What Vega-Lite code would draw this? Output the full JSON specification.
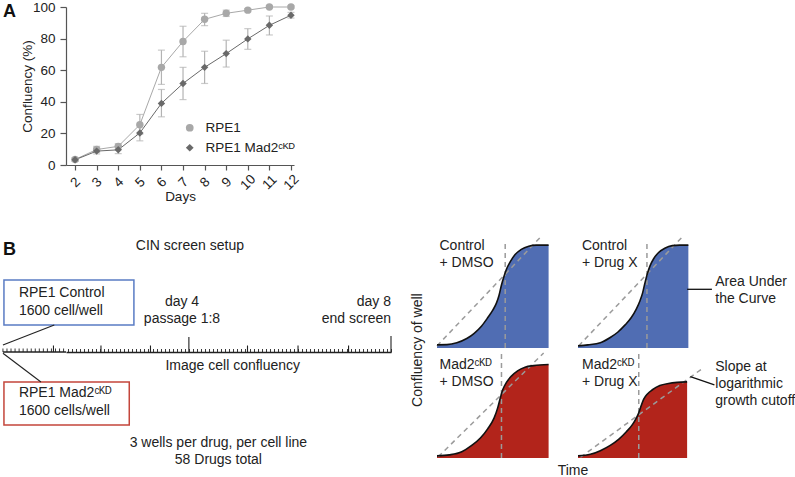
{
  "$schema": "https://vega.github.io/schema/vega-lite/v6.json",
  "background": "white",
  "padding": {"left": 2, "top": 0, "right": 0, "bottom": 0},
  "config": {
    "view": {"stroke": null},
    "font": "Liberation Sans",
    "text": {"font": "Liberation Sans"}
  },
  "datasets": {
    "growth": [
      {"series": "RPE1", "day": 2, "m": 3.5, "lo": 2.5, "hi": 4.5},
      {"series": "RPE1", "day": 3, "m": 9.8, "lo": 8, "hi": 11.8},
      {"series": "RPE1", "day": 4, "m": 11.8, "lo": 10, "hi": 13.5},
      {"series": "RPE1", "day": 5, "m": 25.5, "lo": 19.5, "hi": 32},
      {"series": "RPE1", "day": 6, "m": 61.8, "lo": 51, "hi": 72.7},
      {"series": "RPE1", "day": 7, "m": 78.2, "lo": 68.5, "hi": 87.8},
      {"series": "RPE1", "day": 8, "m": 92.2, "lo": 88.2, "hi": 96},
      {"series": "RPE1", "day": 9, "m": 96, "lo": 94, "hi": 98},
      {"series": "RPE1", "day": 10, "m": 98, "lo": 97, "hi": 99},
      {"series": "RPE1", "day": 11, "m": 100, "lo": 99.3, "hi": 100.7},
      {"series": "RPE1", "day": 12, "m": 100, "lo": 99.3, "hi": 100.7},
      {"series": "RPE1 Mad2ᶜᴷᴰ", "day": 2, "m": 3.3, "lo": 2.3, "hi": 4.3},
      {"series": "RPE1 Mad2ᶜᴷᴰ", "day": 3, "m": 8.8, "lo": 7, "hi": 10.6},
      {"series": "RPE1 Mad2ᶜᴷᴰ", "day": 4, "m": 9.6, "lo": 7.2, "hi": 12},
      {"series": "RPE1 Mad2ᶜᴷᴰ", "day": 5, "m": 20.3, "lo": 15.3, "hi": 25.3},
      {"series": "RPE1 Mad2ᶜᴷᴰ", "day": 6, "m": 39, "lo": 30.5, "hi": 47.8},
      {"series": "RPE1 Mad2ᶜᴷᴰ", "day": 7, "m": 51.6, "lo": 41.4, "hi": 61.8},
      {"series": "RPE1 Mad2ᶜᴷᴰ", "day": 8, "m": 61.8, "lo": 51.6, "hi": 72},
      {"series": "RPE1 Mad2ᶜᴷᴰ", "day": 9, "m": 70.5, "lo": 62, "hi": 79},
      {"series": "RPE1 Mad2ᶜᴷᴰ", "day": 10, "m": 79.8, "lo": 73.2, "hi": 86.3},
      {"series": "RPE1 Mad2ᶜᴷᴰ", "day": 11, "m": 88.4, "lo": 82.3, "hi": 94.3},
      {"series": "RPE1 Mad2ᶜᴷᴰ", "day": 12, "m": 94.8, "lo": 93, "hi": 96.6}
    ],
    "timeline": [
      {"kind": "box", "cell": "Control", "h0": 0.5, "h1": 64.8, "y0": 27, "y1": 72},
      {"kind": "box", "cell": "Mad2", "h0": 0.5, "h1": 62.5, "y0": -30, "y1": -73},
      {"kind": "conn", "h0": 0, "y0": 7, "h1": 25.4, "y1": 27},
      {"kind": "conn", "h0": 0, "y0": -1.3, "h1": 18.8, "y1": -30},
      {"kind": "base", "h0": 0, "y0": 0, "h1": 31.2, "y1": 0},
      {"kind": "stick", "h0": 0, "y0": 0, "y1": 3.5},
      {"kind": "stick", "h0": 2, "y0": 0, "y1": 3.5},
      {"kind": "stick", "h0": 4, "y0": 0, "y1": 3.5},
      {"kind": "stick", "h0": 6, "y0": 0, "y1": 3.5},
      {"kind": "stick", "h0": 8, "y0": 0, "y1": 3.5},
      {"kind": "stick", "h0": 10, "y0": 0, "y1": 3.5},
      {"kind": "stick", "h0": 12, "y0": 0, "y1": 3.5},
      {"kind": "stick", "h0": 14, "y0": 0, "y1": 3.5},
      {"kind": "stick", "h0": 16, "y0": 0, "y1": 3.5},
      {"kind": "stick", "h0": 18, "y0": 0, "y1": 3.5},
      {"kind": "stick", "h0": 20, "y0": 0, "y1": 3.5},
      {"kind": "stick", "h0": 22, "y0": 0, "y1": 3.5},
      {"kind": "stick", "h0": 24, "y0": 0, "y1": 3.5},
      {"kind": "stick", "h0": 26, "y0": 0, "y1": 3.5},
      {"kind": "stick", "h0": 28, "y0": 0, "y1": 3.5},
      {"kind": "stick", "h0": 30, "y0": 0, "y1": 3.5},
      {"kind": "tick", "h0": 25, "y0": 0, "y1": 6.5},
      {"kind": "tick", "h0": 48.5, "y0": 0, "y1": 6.5},
      {"kind": "tick", "h0": 73, "y0": 0, "y1": 6.5},
      {"kind": "tick", "h0": 121, "y0": 0, "y1": 6.5},
      {"kind": "tick", "h0": 146, "y0": 0, "y1": 6.5},
      {"kind": "tick", "h0": 171, "y0": 0, "y1": 6.5},
      {"kind": "tick", "h0": 92, "y0": 0, "y1": 15},
      {"kind": "tick", "h0": 192, "y0": 0, "y1": 16},
      {"kind": "tleft", "h": 7.9, "y": 59, "label": "RPE1 Control\n1600 cell/well"},
      {"kind": "tleft", "h": 7.9, "y": -41.3, "label": "RPE1 Mad2ᶜᴷᴰ\n1600 cells/well"},
      {"kind": "tmid", "h": 92.5, "y": 106, "label": "CIN screen setup"},
      {"kind": "tmid", "h": 88.6, "y": 50, "label": "day 4\npassage 1:8"},
      {"kind": "tmid", "h": 113.7, "y": -14, "label": "Image cell confluency"},
      {"kind": "tmid", "h": 106.6, "y": -91.3, "label": "3 wells per drug, per cell line\n58 Drugs total"},
      {"kind": "tright", "h": 192, "y": 50, "label": "day 8\nend screen"}
    ],
    "curves": [
      {"p": "TL", "kind": "c", "t": 0, "v": 0.03},
      {"p": "TL", "kind": "c", "t": 0.08, "v": 0.032},
      {"p": "TL", "kind": "c", "t": 0.16, "v": 0.05},
      {"p": "TL", "kind": "c", "t": 0.24, "v": 0.09},
      {"p": "TL", "kind": "c", "t": 0.3, "v": 0.14},
      {"p": "TL", "kind": "c", "t": 0.36, "v": 0.21},
      {"p": "TL", "kind": "c", "t": 0.41, "v": 0.29},
      {"p": "TL", "kind": "c", "t": 0.45, "v": 0.36},
      {"p": "TL", "kind": "c", "t": 0.48, "v": 0.43},
      {"p": "TL", "kind": "c", "t": 0.5, "v": 0.5},
      {"p": "TL", "kind": "c", "t": 0.52, "v": 0.6},
      {"p": "TL", "kind": "c", "t": 0.54, "v": 0.68},
      {"p": "TL", "kind": "c", "t": 0.56, "v": 0.75},
      {"p": "TL", "kind": "c", "t": 0.59, "v": 0.82},
      {"p": "TL", "kind": "c", "t": 0.63, "v": 0.89},
      {"p": "TL", "kind": "c", "t": 0.68, "v": 0.94},
      {"p": "TL", "kind": "c", "t": 0.74, "v": 0.97},
      {"p": "TL", "kind": "c", "t": 0.8, "v": 0.98},
      {"p": "TL", "kind": "c", "t": 0.9, "v": 0.98},
      {"p": "TR", "kind": "c", "t": 0, "v": 0.02},
      {"p": "TR", "kind": "c", "t": 0.08, "v": 0.03},
      {"p": "TR", "kind": "c", "t": 0.18, "v": 0.05},
      {"p": "TR", "kind": "c", "t": 0.26, "v": 0.1},
      {"p": "TR", "kind": "c", "t": 0.32, "v": 0.15},
      {"p": "TR", "kind": "c", "t": 0.38, "v": 0.22},
      {"p": "TR", "kind": "c", "t": 0.43, "v": 0.29},
      {"p": "TR", "kind": "c", "t": 0.47, "v": 0.37},
      {"p": "TR", "kind": "c", "t": 0.5, "v": 0.45},
      {"p": "TR", "kind": "c", "t": 0.52, "v": 0.52},
      {"p": "TR", "kind": "c", "t": 0.54, "v": 0.62},
      {"p": "TR", "kind": "c", "t": 0.56, "v": 0.71},
      {"p": "TR", "kind": "c", "t": 0.58, "v": 0.78},
      {"p": "TR", "kind": "c", "t": 0.61, "v": 0.85},
      {"p": "TR", "kind": "c", "t": 0.65, "v": 0.91},
      {"p": "TR", "kind": "c", "t": 0.7, "v": 0.95},
      {"p": "TR", "kind": "c", "t": 0.76, "v": 0.975},
      {"p": "TR", "kind": "c", "t": 0.82, "v": 0.98},
      {"p": "TR", "kind": "c", "t": 0.89, "v": 0.98},
      {"p": "BL", "kind": "c", "t": 0, "v": 0.02},
      {"p": "BL", "kind": "c", "t": 0.1, "v": 0.03},
      {"p": "BL", "kind": "c", "t": 0.2, "v": 0.06},
      {"p": "BL", "kind": "c", "t": 0.28, "v": 0.12},
      {"p": "BL", "kind": "c", "t": 0.35, "v": 0.19},
      {"p": "BL", "kind": "c", "t": 0.41, "v": 0.28},
      {"p": "BL", "kind": "c", "t": 0.46, "v": 0.38},
      {"p": "BL", "kind": "c", "t": 0.49, "v": 0.48},
      {"p": "BL", "kind": "c", "t": 0.51, "v": 0.57},
      {"p": "BL", "kind": "c", "t": 0.53, "v": 0.65},
      {"p": "BL", "kind": "c", "t": 0.56, "v": 0.72},
      {"p": "BL", "kind": "c", "t": 0.6, "v": 0.78},
      {"p": "BL", "kind": "c", "t": 0.65, "v": 0.83},
      {"p": "BL", "kind": "c", "t": 0.71, "v": 0.865},
      {"p": "BL", "kind": "c", "t": 0.78, "v": 0.88},
      {"p": "BL", "kind": "c", "t": 0.9, "v": 0.89},
      {"p": "BR", "kind": "c", "t": 0, "v": 0.02},
      {"p": "BR", "kind": "c", "t": 0.1, "v": 0.035},
      {"p": "BR", "kind": "c", "t": 0.18, "v": 0.07},
      {"p": "BR", "kind": "c", "t": 0.26, "v": 0.12},
      {"p": "BR", "kind": "c", "t": 0.33, "v": 0.18},
      {"p": "BR", "kind": "c", "t": 0.39, "v": 0.25},
      {"p": "BR", "kind": "c", "t": 0.44, "v": 0.32},
      {"p": "BR", "kind": "c", "t": 0.47, "v": 0.38},
      {"p": "BR", "kind": "c", "t": 0.49, "v": 0.43},
      {"p": "BR", "kind": "c", "t": 0.51, "v": 0.5},
      {"p": "BR", "kind": "c", "t": 0.53, "v": 0.56},
      {"p": "BR", "kind": "c", "t": 0.56, "v": 0.61},
      {"p": "BR", "kind": "c", "t": 0.6, "v": 0.65},
      {"p": "BR", "kind": "c", "t": 0.66, "v": 0.69},
      {"p": "BR", "kind": "c", "t": 0.73, "v": 0.71},
      {"p": "BR", "kind": "c", "t": 0.8, "v": 0.72},
      {"p": "BR", "kind": "c", "t": 0.88, "v": 0.725},
      {"p": "TL", "kind": "d", "t": 0, "v": 0.02},
      {"p": "TL", "kind": "d", "t": 0.85, "v": 1.075},
      {"p": "TR", "kind": "d", "t": 0.005, "v": 0.02},
      {"p": "TR", "kind": "d", "t": 0.855, "v": 1.075},
      {"p": "BL", "kind": "d", "t": 0.01, "v": 0.012},
      {"p": "BL", "kind": "d", "t": 0.86, "v": 1.0},
      {"p": "BR", "kind": "d", "t": 0.02, "v": 0.007},
      {"p": "BR", "kind": "d", "t": 1.0, "v": 0.85},
      {"p": "TL", "kind": "vl", "t": 0.55, "v": 0, "v2": 1},
      {"p": "TR", "kind": "vl", "t": 0.556, "v": 0, "v2": 1},
      {"p": "BL", "kind": "vl", "t": 0.52, "v": 0, "v2": 1},
      {"p": "BR", "kind": "vl", "t": 0.49, "v": 0, "v2": 1},
      {"p": "TL", "kind": "lab", "t": 0.02, "v": 0.97, "label": "Control\n+ DMSO"},
      {"p": "TR", "kind": "lab", "t": 0.032, "v": 0.97, "label": "Control\n+ Drug X"},
      {"p": "BL", "kind": "lab", "t": 0.02, "v": 0.886, "label": "Mad2ᶜᴷᴰ\n+ DMSO"},
      {"p": "BR", "kind": "lab", "t": 0.032, "v": 0.886, "label": "Mad2ᶜᴷᴰ\n+ Drug X"},
      {"p": "TR", "kind": "ann", "t": 1.107, "v": 0.629, "label": "Area Under\nthe Curve"},
      {"p": "BR", "kind": "ann", "t": 1.107, "v": 0.87, "label": "Slope at\nlogarithmic\ngrowth cutoff"},
      {"p": "TR", "kind": "ld", "t": 0.88, "v": 0.559, "t2": 1.08, "v2": 0.559},
      {"p": "BR", "kind": "ld", "t": 0.906, "v": 0.774, "t2": 1.1, "v2": 0.697},
      {"p": "TL", "kind": "ylab", "t": -0.153, "v": -0.02, "label": "Confluency of well"},
      {"p": "BL", "kind": "xlab", "t": 1.097, "v": -0.125, "label": "Time"}
    ]
  },
  "columns": 1,
  "align": "none",
  "spacing": 28,
  "resolve": {"scale": {"color": "independent", "shape": "independent", "stroke": "independent"}},
  "concat": [
    {
      "hconcat": [
        {
          "width": 228,
          "height": 158,
          "title": {"text": "A", "anchor": "start", "frame": "group", "dx": -63, "offset": -35, "fontSize": 18, "fontWeight": "bold", "color": "#111111", "baseline": "alphabetic"},
          "data": {"name": "growth"},
          "resolve": {"axis": {"x": "independent", "y": "independent"}, "legend": {"color": "independent", "shape": "independent"}},
          "layer": [
            {
              "mark": {"type": "rule", "color": "#b3b3b3", "strokeWidth": 1.2},
              "encoding": {
                "x": {"field": "day", "type": "quantitative", "scale": {"domain": [1.58, 12.14], "nice": false, "zero": false}, "axis": null},
                "y": {"field": "lo", "type": "quantitative", "scale": {"domain": [0, 100], "nice": false, "zero": false}, "axis": null},
                "y2": {"field": "hi"}
              }
            },
            {
              "mark": {"type": "tick", "orient": "horizontal", "color": "#b3b3b3", "size": 7, "thickness": 1.2},
              "encoding": {
                "x": {"field": "day", "type": "quantitative", "axis": null},
                "y": {"field": "lo", "type": "quantitative", "axis": null}
              }
            },
            {
              "mark": {"type": "tick", "orient": "horizontal", "color": "#b3b3b3", "size": 7, "thickness": 1.2},
              "encoding": {
                "x": {"field": "day", "type": "quantitative", "axis": null},
                "y": {"field": "hi", "type": "quantitative", "axis": null}
              }
            },
            {
              "mark": {"type": "line", "strokeWidth": 1},
              "encoding": {
                "x": {"field": "day", "type": "quantitative", "axis": null},
                "y": {"field": "m", "type": "quantitative", "axis": null},
                "color": {"field": "series", "type": "nominal", "scale": {"domain": ["RPE1", "RPE1 Mad2ᶜᴷᴰ"], "range": ["#a8a8a8", "#696969"]}, "legend": null}
              }
            },
            {
              "mark": {"type": "point", "filled": true, "opacity": 1, "size": 55},
              "encoding": {
                "x": {"field": "day", "type": "quantitative",
                  "axis": {"values": [2, 3, 4, 5, 6, 7, 8, 9, 10, 11, 12], "labelAngle": -45, "labelAlign": "center", "labelBaseline": "middle", "labelPadding": 12, "tickSize": 5, "title": "Days", "titlePadding": -2, "grid": false, "domainColor": "#555555", "tickColor": "#555555", "labelColor": "#222222", "titleColor": "#222222", "labelFont": "Liberation Sans", "titleFont": "Liberation Sans", "labelFontSize": 13.5, "titleFontSize": 13.5, "titleFontWeight": "normal", "domainWidth": 1.2, "tickWidth": 1.2}},
                "y": {"field": "m", "type": "quantitative",
                  "axis": {"values": [0, 20, 40, 60, 80, 100], "tickSize": 6, "labelPadding": 5, "title": "Confluency (%)", "titlePadding": -2, "grid": false, "domainColor": "#555555", "tickColor": "#555555", "labelColor": "#222222", "titleColor": "#222222", "labelFont": "Liberation Sans", "titleFont": "Liberation Sans", "labelFontSize": 13.5, "titleFontSize": 13.5, "titleFontWeight": "normal", "domainWidth": 1.2, "tickWidth": 1.2}},
                "color": {"field": "series", "type": "nominal", "scale": {"domain": ["RPE1", "RPE1 Mad2ᶜᴷᴰ"], "range": ["#a8a8a8", "#696969"]},
                  "legend": {"orient": "none", "legendX": 117, "legendY": 114, "title": null, "labelFont": "Liberation Sans", "labelFontSize": 13.5, "labelColor": "#222222", "rowPadding": 5, "symbolSize": 60, "labelOffset": 9}},
                "shape": {"field": "series", "type": "nominal", "scale": {"domain": ["RPE1", "RPE1 Mad2ᶜᴷᴰ"], "range": ["circle", "diamond"]},
                  "legend": {"orient": "none", "legendX": 117, "legendY": 114, "title": null, "labelFont": "Liberation Sans", "labelFontSize": 13.5, "labelColor": "#222222", "rowPadding": 5, "symbolSize": 60, "labelOffset": 9}}
              }
            }
          ]
        }
      ]
    },
    {
      "bounds": "flush",
      "spacing": 46,
      "hconcat": [
        {
          "width": 325,
          "height": 109,
          "title": {"text": "B", "anchor": "start", "frame": "group", "dx": -63, "offset": -34, "fontSize": 18, "fontWeight": "bold", "color": "#111111", "baseline": "alphabetic"},
          "data": {"name": "timeline"},
          "resolve": {"axis": {"x": "independent", "y": "independent"}},
          "layer": [
            {
              "transform": [{"filter": "datum.kind === 'box'"}],
              "mark": {"type": "rect", "fill": "white", "strokeWidth": 1.5},
              "encoding": {
                "x": {"field": "h0", "type": "quantitative", "scale": {"domain": [31.2, 192], "nice": false, "zero": false},
                  "axis": {"title": null, "labels": false, "grid": false, "tickCount": 80, "tickSize": -3.5, "tickColor": "#222222", "tickWidth": 0.9, "domainColor": "#222222", "domainWidth": 1.5}},
                "x2": {"field": "h1"},
                "y": {"field": "y0", "type": "quantitative", "scale": {"domain": [0, 109], "nice": false, "zero": false}, "axis": null},
                "y2": {"field": "y1"},
                "stroke": {"field": "cell", "type": "nominal", "scale": {"domain": ["Control", "Mad2"], "range": ["#5a7cc4", "#c4463b"]}, "legend": null}
              }
            },
            {
              "transform": [{"filter": {"field": "kind", "oneOf": ["conn", "tick"]}}],
              "mark": {"type": "rule", "color": "#222222", "strokeWidth": 1.1},
              "encoding": {
                "x": {"field": "h0", "type": "quantitative", "axis": null},
                "x2": {"field": "h1"},
                "y": {"field": "y0", "type": "quantitative", "axis": null},
                "y2": {"field": "y1"}
              }
            },
            {
              "transform": [{"filter": "datum.kind === 'stick'"}],
              "mark": {"type": "rule", "color": "#222222", "strokeWidth": 0.9},
              "encoding": {
                "x": {"field": "h0", "type": "quantitative", "axis": null},
                "y": {"field": "y0", "type": "quantitative", "axis": null},
                "y2": {"field": "y1"}
              }
            },
            {
              "transform": [{"filter": "datum.kind === 'base'"}],
              "mark": {"type": "rule", "color": "#222222", "strokeWidth": 1.5},
              "encoding": {
                "x": {"field": "h0", "type": "quantitative", "axis": null},
                "x2": {"field": "h1"},
                "y": {"field": "y0", "type": "quantitative", "axis": null},
                "y2": {"field": "y1"}
              }
            },
            {
              "transform": [{"filter": "datum.kind === 'tleft'"}],
              "mark": {"type": "text", "align": "left", "baseline": "middle", "lineBreak": "\n", "lineHeight": 17.5, "fontSize": 14, "color": "#222222"},
              "encoding": {
                "x": {"field": "h", "type": "quantitative", "axis": null},
                "y": {"field": "y", "type": "quantitative", "axis": null},
                "text": {"field": "label"}
              }
            },
            {
              "transform": [{"filter": "datum.kind === 'tmid'"}],
              "mark": {"type": "text", "align": "center", "baseline": "middle", "lineBreak": "\n", "lineHeight": 16.5, "fontSize": 14, "color": "#222222"},
              "encoding": {
                "x": {"field": "h", "type": "quantitative", "axis": null},
                "y": {"field": "y", "type": "quantitative", "axis": null},
                "text": {"field": "label"}
              }
            },
            {
              "transform": [{"filter": "datum.kind === 'tright'"}],
              "mark": {"type": "text", "align": "right", "baseline": "middle", "lineBreak": "\n", "lineHeight": 16.5, "fontSize": 14, "color": "#222222"},
              "encoding": {
                "x": {"field": "h", "type": "quantitative", "axis": null},
                "y": {"field": "y", "type": "quantitative", "axis": null},
                "text": {"field": "label"}
              }
            }
          ]
        },
        {
          "columns": 2,
          "align": "all",
          "bounds": "flush",
          "spacing": {"row": 5, "column": 17},
          "concat": [
            {
              "width": 124, "height": 105,
              "data": {"name": "curves"},
              "transform": [{"filter": "datum.p === 'TL'"}],
              "layer": [
                {"transform": [{"filter": "datum.kind === 'c'"}], "mark": {"type": "area", "interpolate": "monotone", "color": "#506db3", "opacity": 1},
                  "encoding": {
                    "x": {"field": "t", "type": "quantitative", "scale": {"domain": [0, 1], "nice": false, "zero": false}, "axis": {"title": null, "labels": false, "ticks": false, "grid": false, "domainColor": "#a9a9a9", "domainWidth": 1.6}},
                    "y": {"field": "v", "type": "quantitative", "scale": {"domain": [0, 1], "nice": false, "zero": false}, "axis": {"title": null, "labels": false, "ticks": false, "grid": false, "domainColor": "#a9a9a9", "domainWidth": 1.6}}}},
                {"transform": [{"filter": "datum.kind === 'vl'"}], "mark": {"type": "rule", "color": "#9b9b9b", "strokeWidth": 1.5, "strokeDash": [5, 4]},
                  "encoding": {"x": {"field": "t", "type": "quantitative", "axis": null}, "y": {"field": "v", "type": "quantitative", "axis": null}, "y2": {"field": "v2"}}},
                {"transform": [{"filter": "datum.kind === 'd'"}], "mark": {"type": "line", "color": "#9b9b9b", "strokeWidth": 1.5, "strokeDash": [5, 4]},
                  "encoding": {"x": {"field": "t", "type": "quantitative", "axis": null}, "y": {"field": "v", "type": "quantitative", "axis": null}}},
                {"transform": [{"filter": "datum.kind === 'c'"}], "mark": {"type": "line", "interpolate": "monotone", "color": "#111111", "strokeWidth": 1.6},
                  "encoding": {"x": {"field": "t", "type": "quantitative", "axis": null}, "y": {"field": "v", "type": "quantitative", "axis": null}}},
                {"transform": [{"filter": {"field": "kind", "oneOf": ["lab", "ann"]}}], "mark": {"type": "text", "align": "left", "baseline": "middle", "lineBreak": "\n", "lineHeight": 17, "fontSize": 14, "color": "#222222"},
                  "encoding": {"x": {"field": "t", "type": "quantitative", "axis": null}, "y": {"field": "v", "type": "quantitative", "axis": null}, "text": {"field": "label"}}},
                {"transform": [{"filter": "datum.kind === 'ylab'"}], "mark": {"type": "text", "angle": 270, "align": "center", "baseline": "middle", "fontSize": 14, "color": "#222222"},
                  "encoding": {"x": {"field": "t", "type": "quantitative", "axis": null}, "y": {"field": "v", "type": "quantitative", "axis": null}, "text": {"field": "label"}}}
              ]
            },
            {
              "width": 124, "height": 105,
              "data": {"name": "curves"},
              "transform": [{"filter": "datum.p === 'TR'"}],
              "layer": [
                {"transform": [{"filter": "datum.kind === 'c'"}], "mark": {"type": "area", "interpolate": "monotone", "color": "#506db3", "opacity": 1},
                  "encoding": {
                    "x": {"field": "t", "type": "quantitative", "scale": {"domain": [0, 1], "nice": false, "zero": false}, "axis": {"title": null, "labels": false, "ticks": false, "grid": false, "domainColor": "#a9a9a9", "domainWidth": 1.6}},
                    "y": {"field": "v", "type": "quantitative", "scale": {"domain": [0, 1], "nice": false, "zero": false}, "axis": {"title": null, "labels": false, "ticks": false, "grid": false, "domainColor": "#a9a9a9", "domainWidth": 1.6}}}},
                {"transform": [{"filter": "datum.kind === 'vl'"}], "mark": {"type": "rule", "color": "#9b9b9b", "strokeWidth": 1.5, "strokeDash": [5, 4]},
                  "encoding": {"x": {"field": "t", "type": "quantitative", "axis": null}, "y": {"field": "v", "type": "quantitative", "axis": null}, "y2": {"field": "v2"}}},
                {"transform": [{"filter": "datum.kind === 'd'"}], "mark": {"type": "line", "color": "#9b9b9b", "strokeWidth": 1.5, "strokeDash": [5, 4]},
                  "encoding": {"x": {"field": "t", "type": "quantitative", "axis": null}, "y": {"field": "v", "type": "quantitative", "axis": null}}},
                {"transform": [{"filter": "datum.kind === 'c'"}], "mark": {"type": "line", "interpolate": "monotone", "color": "#111111", "strokeWidth": 1.6},
                  "encoding": {"x": {"field": "t", "type": "quantitative", "axis": null}, "y": {"field": "v", "type": "quantitative", "axis": null}}},
                {"transform": [{"filter": {"field": "kind", "oneOf": ["lab", "ann"]}}], "mark": {"type": "text", "align": "left", "baseline": "middle", "lineBreak": "\n", "lineHeight": 17, "fontSize": 14, "color": "#222222"},
                  "encoding": {"x": {"field": "t", "type": "quantitative", "axis": null}, "y": {"field": "v", "type": "quantitative", "axis": null}, "text": {"field": "label"}}},
                {"transform": [{"filter": "datum.kind === 'ld'"}], "mark": {"type": "rule", "color": "#111111", "strokeWidth": 1.3},
                  "encoding": {"x": {"field": "t", "type": "quantitative", "axis": null}, "x2": {"field": "t2"}, "y": {"field": "v", "type": "quantitative", "axis": null}, "y2": {"field": "v2"}}}
              ]
            },
            {
              "width": 124, "height": 105,
              "data": {"name": "curves"},
              "transform": [{"filter": "datum.p === 'BL'"}],
              "layer": [
                {"transform": [{"filter": "datum.kind === 'c'"}], "mark": {"type": "area", "interpolate": "monotone", "color": "#b2241b", "opacity": 1},
                  "encoding": {
                    "x": {"field": "t", "type": "quantitative", "scale": {"domain": [0, 1], "nice": false, "zero": false}, "axis": {"title": null, "labels": false, "ticks": false, "grid": false, "domainColor": "#a9a9a9", "domainWidth": 1.6}},
                    "y": {"field": "v", "type": "quantitative", "scale": {"domain": [0, 1], "nice": false, "zero": false}, "axis": {"title": null, "labels": false, "ticks": false, "grid": false, "domainColor": "#a9a9a9", "domainWidth": 1.6}}}},
                {"transform": [{"filter": "datum.kind === 'vl'"}], "mark": {"type": "rule", "color": "#9b9b9b", "strokeWidth": 1.5, "strokeDash": [5, 4]},
                  "encoding": {"x": {"field": "t", "type": "quantitative", "axis": null}, "y": {"field": "v", "type": "quantitative", "axis": null}, "y2": {"field": "v2"}}},
                {"transform": [{"filter": "datum.kind === 'd'"}], "mark": {"type": "line", "color": "#9b9b9b", "strokeWidth": 1.5, "strokeDash": [5, 4]},
                  "encoding": {"x": {"field": "t", "type": "quantitative", "axis": null}, "y": {"field": "v", "type": "quantitative", "axis": null}}},
                {"transform": [{"filter": "datum.kind === 'c'"}], "mark": {"type": "line", "interpolate": "monotone", "color": "#111111", "strokeWidth": 1.6},
                  "encoding": {"x": {"field": "t", "type": "quantitative", "axis": null}, "y": {"field": "v", "type": "quantitative", "axis": null}}},
                {"transform": [{"filter": {"field": "kind", "oneOf": ["lab", "ann"]}}], "mark": {"type": "text", "align": "left", "baseline": "middle", "lineBreak": "\n", "lineHeight": 17, "fontSize": 14, "color": "#222222"},
                  "encoding": {"x": {"field": "t", "type": "quantitative", "axis": null}, "y": {"field": "v", "type": "quantitative", "axis": null}, "text": {"field": "label"}}},
                {"transform": [{"filter": "datum.kind === 'xlab'"}], "mark": {"type": "text", "align": "center", "baseline": "middle", "fontSize": 14, "color": "#222222"},
                  "encoding": {"x": {"field": "t", "type": "quantitative", "axis": null}, "y": {"field": "v", "type": "quantitative", "axis": null}, "text": {"field": "label"}}}
              ]
            },
            {
              "width": 124, "height": 105,
              "data": {"name": "curves"},
              "transform": [{"filter": "datum.p === 'BR'"}],
              "layer": [
                {"transform": [{"filter": "datum.kind === 'c'"}], "mark": {"type": "area", "interpolate": "monotone", "color": "#b2241b", "opacity": 1},
                  "encoding": {
                    "x": {"field": "t", "type": "quantitative", "scale": {"domain": [0, 1], "nice": false, "zero": false}, "axis": {"title": null, "labels": false, "ticks": false, "grid": false, "domainColor": "#a9a9a9", "domainWidth": 1.6}},
                    "y": {"field": "v", "type": "quantitative", "scale": {"domain": [0, 1], "nice": false, "zero": false}, "axis": {"title": null, "labels": false, "ticks": false, "grid": false, "domainColor": "#a9a9a9", "domainWidth": 1.6}}}},
                {"transform": [{"filter": "datum.kind === 'vl'"}], "mark": {"type": "rule", "color": "#9b9b9b", "strokeWidth": 1.5, "strokeDash": [5, 4]},
                  "encoding": {"x": {"field": "t", "type": "quantitative", "axis": null}, "y": {"field": "v", "type": "quantitative", "axis": null}, "y2": {"field": "v2"}}},
                {"transform": [{"filter": "datum.kind === 'd'"}], "mark": {"type": "line", "color": "#9b9b9b", "strokeWidth": 1.5, "strokeDash": [5, 4]},
                  "encoding": {"x": {"field": "t", "type": "quantitative", "axis": null}, "y": {"field": "v", "type": "quantitative", "axis": null}}},
                {"transform": [{"filter": "datum.kind === 'c'"}], "mark": {"type": "line", "interpolate": "monotone", "color": "#111111", "strokeWidth": 1.6},
                  "encoding": {"x": {"field": "t", "type": "quantitative", "axis": null}, "y": {"field": "v", "type": "quantitative", "axis": null}}},
                {"transform": [{"filter": {"field": "kind", "oneOf": ["lab", "ann"]}}], "mark": {"type": "text", "align": "left", "baseline": "middle", "lineBreak": "\n", "lineHeight": 17, "fontSize": 14, "color": "#222222"},
                  "encoding": {"x": {"field": "t", "type": "quantitative", "axis": null}, "y": {"field": "v", "type": "quantitative", "axis": null}, "text": {"field": "label"}}},
                {"transform": [{"filter": "datum.kind === 'ld'"}], "mark": {"type": "rule", "color": "#111111", "strokeWidth": 1.3},
                  "encoding": {"x": {"field": "t", "type": "quantitative", "axis": null}, "x2": {"field": "t2"}, "y": {"field": "v", "type": "quantitative", "axis": null}, "y2": {"field": "v2"}}}
              ]
            }
          ]
        }
      ]
    }
  ]
}
